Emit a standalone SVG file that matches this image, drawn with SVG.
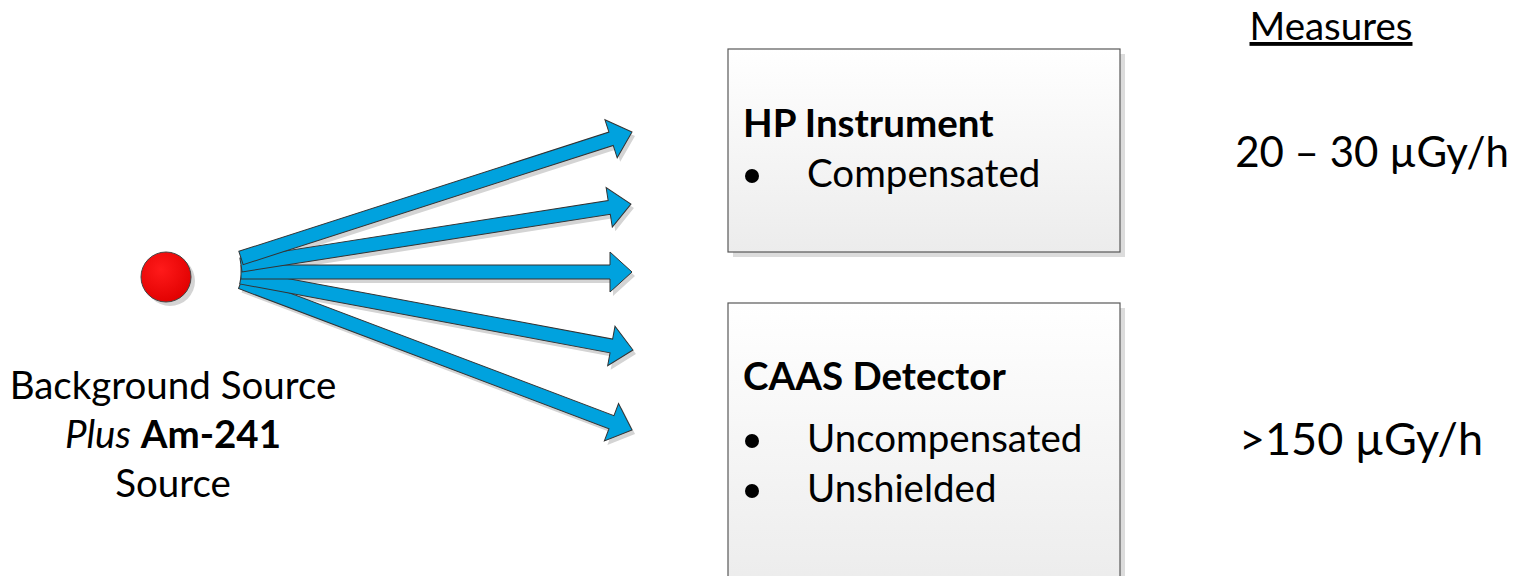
<svg xmlns="http://www.w3.org/2000/svg" xmlns:xlink="http://www.w3.org/1999/xlink" width="1522" height="576" viewBox="0 0 1522 576">
<style>
text{font-family:Lato,"Liberation Sans",sans-serif;fill:#000}
.t40{font-size:38.5px}
.t48{font-size:45px}
.t42{font-size:42px}
.b{font-weight:bold}
.i{font-style:italic}
.arrow{fill:#00A2DE;stroke:#333;stroke-width:1}
.ashadow{fill:#d4d4d4;stroke:none}
.box{fill:url(#boxg);stroke:#595959;stroke-width:1.2}
.bshadow{fill:#dcdcdc}
.bullet{fill:#000}
</style>
<defs>
<linearGradient id="boxg" x1="0" y1="0" x2="0" y2="1">
<stop offset="0" stop-color="#ffffff"/>
<stop offset="1" stop-color="#ececec"/>
</linearGradient>
<radialGradient id="redg" cx="0.4" cy="0.35" r="0.7">
<stop offset="0" stop-color="#ff1a1a"/>
<stop offset="1" stop-color="#e00000"/>
</radialGradient>
<polygon id="a1" points="0,-7 388.8,-7 388.8,-20 410.8,0 388.8,20 388.8,7 0,7"/>
<polygon id="a2" points="0,-7 372.7,-7 372.7,-20 394.7,0 372.7,20 372.7,7 0,7"/>
<polygon id="a3" points="0,-7 369,-7 369,-20 391,0 369,20 369,7 0,7"/>
<polygon id="a4" points="0,-7 376.7,-7 376.7,-20 398.7,0 376.7,20 376.7,7 0,7"/>
<polygon id="a5" points="0,-7 396.1,-7 396.1,-20 418.1,0 396.1,20 396.1,7 0,7"/>
</defs>

<g id="source">
<circle cx="170" cy="281" r="25" fill="#d4d4d4"/>
<circle cx="166" cy="277" r="25" fill="url(#redg)" stroke="#444" stroke-width="1"/>
<text class="t40" x="173" y="399" text-anchor="middle">Background Source</text>
<text class="t40" x="173" y="448" text-anchor="middle"><tspan class="i">Plus</tspan> <tspan class="b">Am-241</tspan></text>
<text class="t40" x="173" y="497" text-anchor="middle">Source</text>
</g>

<g id="connectors">
<g transform="translate(3,4)">
<use xlink:href="#a1" class="ashadow" transform="translate(241,258) rotate(-17.86)"/>
<use xlink:href="#a2" class="ashadow" transform="translate(241,265) rotate(-8.89)"/>
<use xlink:href="#a3" class="ashadow" transform="translate(241,272)"/>
<use xlink:href="#a4" class="ashadow" transform="translate(241,277) rotate(10.55)"/>
<use xlink:href="#a5" class="ashadow" transform="translate(241,282) rotate(20.73)"/>
</g>
<use xlink:href="#a5" class="arrow" transform="translate(241,282) rotate(20.73)"/>
<use xlink:href="#a4" class="arrow" transform="translate(241,277) rotate(10.55)"/>
<use xlink:href="#a3" class="arrow" transform="translate(241,272)"/>
<use xlink:href="#a2" class="arrow" transform="translate(241,265) rotate(-8.89)"/>
<use xlink:href="#a1" class="arrow" transform="translate(241,258) rotate(-17.86)"/>
</g>

<g id="hp">
<rect class="bshadow" x="733" y="54" width="392" height="203"/>
<rect class="box" x="728" y="49" width="392" height="203"/>
<text class="t40 b" x="743" y="137">HP Instrument</text>
<circle class="bullet" cx="752" cy="176" r="7"/>
<text class="t40" x="807" y="187">Compensated</text>
</g>

<g id="caas">
<rect class="bshadow" x="733" y="308" width="392" height="280"/>
<rect class="box" x="728" y="303" width="392" height="285"/>
<text class="t40 b" x="743" y="390">CAAS Detector</text>
<circle class="bullet" cx="752" cy="441" r="7"/>
<text class="t40" x="807" y="452">Uncompensated</text>
<circle class="bullet" cx="752" cy="491" r="7"/>
<text class="t40" x="807" y="502">Unshielded</text>
</g>

<g id="measures">
<text class="t40" x="1331" y="40" text-anchor="middle" text-decoration="underline">Measures</text>
<text class="t42" x="1372" y="167" text-anchor="middle">20 – 30 µGy/h</text>
<text class="t48" x="1361" y="455" text-anchor="middle">&gt;150 µGy/h</text>
</g>
</svg>
